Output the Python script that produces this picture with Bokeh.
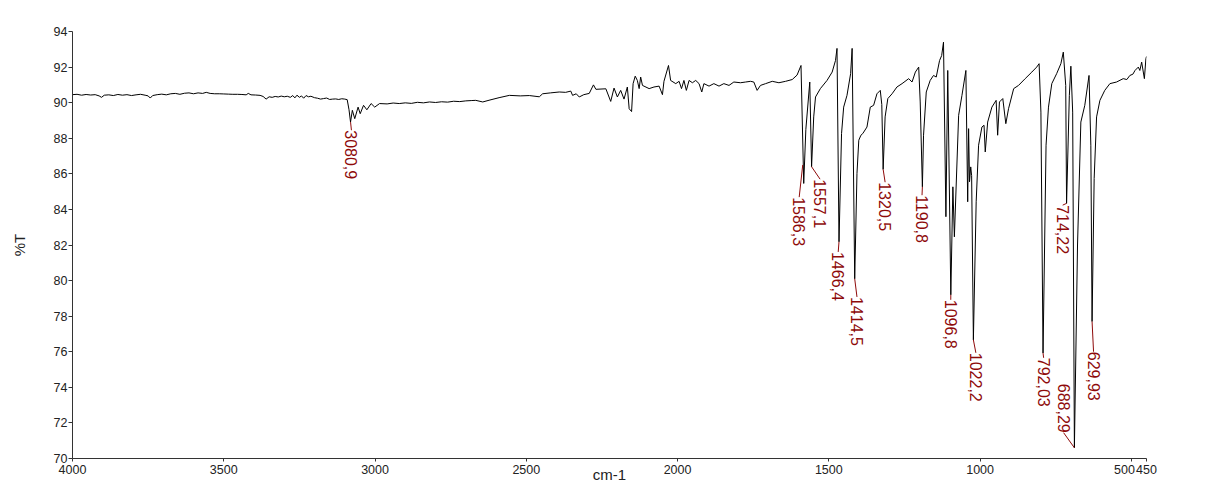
import math
from bokeh.plotting import figure
from bokeh.models import Range1d, FixedTicker, ColumnDataSource, BoxAnnotation
from bokeh.core.properties import value
from bokeh.embed import file_html
from bokeh.resources import INLINE

# ---------------- data ----------------
wavenumber = [
    4000, 3985, 3970, 3955, 3940, 3925, 3912, 3904, 3895, 3880, 3865, 3850, 3835, 3820, 3805,
    3790, 3775, 3760, 3750, 3743, 3735, 3720, 3705, 3690, 3675, 3660, 3645, 3630, 3615, 3600,
    3585, 3570, 3558, 3545, 3530, 3515, 3500, 3485, 3470, 3455, 3440, 3426, 3419, 3410, 3395,
    3380, 3370, 3360, 3350, 3340, 3330, 3320, 3310, 3300, 3290, 3280, 3272, 3265, 3258, 3250,
    3243, 3236, 3228, 3220, 3212, 3200, 3190, 3180, 3170, 3160, 3150, 3140, 3130, 3120, 3110,
    3100, 3092, 3086, 3081, 3075, 3067, 3056, 3049, 3038, 3027, 3013, 3001, 2985, 2960, 2940,
    2920, 2900, 2880, 2860, 2840, 2820, 2800, 2780, 2760, 2740, 2720, 2700, 2680, 2667, 2644,
    2620, 2590, 2556, 2520, 2490, 2457, 2446, 2420, 2391, 2370, 2353, 2347, 2335, 2325, 2310,
    2292, 2278, 2270, 2237, 2221, 2210, 2199, 2188, 2177, 2166, 2160, 2152, 2147, 2140, 2133,
    2127, 2122, 2116, 2094, 2078, 2061, 2050, 2045, 2030, 2023, 2006, 1995, 1987, 1979, 1971,
    1962, 1951, 1940, 1929, 1920, 1913, 1896, 1880, 1863, 1847, 1830, 1814, 1792, 1775, 1759,
    1748, 1737, 1726, 1709, 1687, 1665, 1643, 1621, 1605, 1592, 1583, 1576, 1563, 1557, 1550,
    1544, 1528, 1506, 1489, 1478, 1473, 1466.4, 1458, 1451, 1440, 1428, 1423, 1414.5, 1407, 1401,
    1394, 1388, 1374, 1363, 1352, 1341, 1330, 1325, 1320.5, 1314, 1305, 1291, 1275, 1258, 1236,
    1225, 1214, 1203, 1198, 1190.8, 1187, 1178, 1165, 1154, 1145, 1134, 1127, 1121, 1113, 1107,
    1096.8, 1090, 1085, 1071, 1060, 1047, 1041, 1038, 1035, 1031, 1028, 1022.2, 1013, 1005, 994,
    987, 983, 975, 961, 947, 942, 936, 925, 915, 906, 889, 873, 851, 829, 813,
    805, 799, 792, 782, 774, 763, 747, 733, 725, 717, 714.2, 705, 700, 694, 688.3,
    678, 667, 654, 640, 634, 629.9, 623, 615, 604, 588, 571, 549, 527, 515, 505,
    495, 488, 477, 472, 466, 457, 452, 450,
]
transmittance = [
    90.45, 90.47, 90.42, 90.46, 90.43, 90.45, 90.38, 90.30, 90.42, 90.44, 90.40, 90.46, 90.42, 90.45, 90.40,
    90.44, 90.47, 90.42, 90.38, 90.26, 90.40, 90.45, 90.48, 90.44, 90.50, 90.52, 90.47, 90.53, 90.55, 90.50,
    90.55, 90.52, 90.58, 90.52, 90.50, 90.50, 90.49, 90.48, 90.47, 90.47, 90.46, 90.44, 90.52, 90.44, 90.43,
    90.41, 90.35, 90.20, 90.33, 90.30, 90.35, 90.32, 90.37, 90.33, 90.36, 90.30, 90.40, 90.27, 90.42, 90.30,
    90.38, 90.25, 90.40, 90.33, 90.36, 90.28, 90.25, 90.20, 90.23, 90.26, 90.18, 90.20, 90.21, 90.18, 90.22,
    90.20, 90.17, 89.60, 88.91, 89.57, 89.10, 89.75, 89.38, 89.85, 89.60, 89.95, 89.75, 89.95, 89.93, 89.98,
    89.95, 89.99, 89.96, 90.02, 89.99, 90.04, 90.01, 90.05, 90.03, 90.08, 90.06, 90.10, 90.12, 90.13, 90.04,
    90.15, 90.28, 90.41, 90.38, 90.40, 90.33, 90.50, 90.55, 90.60, 90.58, 90.65, 90.41, 90.50, 90.32, 90.45,
    90.52, 91.00, 90.75, 90.78, 90.07, 90.82, 90.32, 90.69, 90.20, 90.88, 89.66, 89.50, 91.07, 91.49, 91.25,
    90.79, 91.44, 90.97, 90.79, 90.88, 90.93, 90.45, 91.20, 92.09, 91.25, 91.07, 91.20, 90.79, 91.25, 90.69,
    91.25, 91.12, 91.25, 91.07, 90.60, 91.07, 90.93, 91.07, 90.93, 91.07, 90.97, 91.16, 91.12, 91.16, 91.20,
    91.16, 90.69, 90.97, 91.07, 91.20, 91.12, 91.20, 91.30, 91.55, 92.09, 85.46, 88.50, 91.16, 86.40, 89.20,
    90.32, 90.79, 91.25, 91.72, 92.37, 93.05, 82.18, 88.26, 89.75, 90.41, 91.63, 93.05, 80.10, 86.02, 87.89,
    88.17, 88.26, 88.63, 89.75, 89.85, 90.50, 90.69, 89.90, 86.25, 89.20, 90.23, 90.50, 90.88, 91.07, 91.35,
    91.16, 91.72, 92.00, 90.04, 85.27, 88.17, 90.60, 91.25, 91.53, 91.44, 92.37, 92.65, 93.40, 83.59, 91.81,
    79.20, 85.27, 82.46, 89.29, 90.41, 91.81, 84.43, 88.54, 85.55, 86.39, 85.90, 76.67, 84.43, 87.61, 88.63,
    88.73, 87.23, 88.91, 89.75, 90.13, 88.17, 90.04, 90.23, 88.82, 89.66, 90.79, 90.97, 91.35, 91.72, 92.00,
    92.19, 89.47, 75.93, 87.61, 89.75, 91.07, 91.63, 92.19, 92.84, 90.97, 84.34, 90.41, 92.05, 89.47, 70.60,
    82.00, 88.91, 89.85, 91.53, 87.61, 77.70, 85.74, 89.20, 90.13, 90.69, 91.07, 91.16, 91.35, 91.30, 91.53,
    91.60, 91.81, 92.00, 91.81, 92.28, 91.35, 92.47, 92.60,
]

peak_wn = [3080.9, 1586.3, 1557.1, 1466.4, 1414.5, 1320.5, 1190.8, 1096.8, 1022.2, 792.03, 714.22, 688.29, 629.93]
peak_T = [88.91, 86.5, 86.4, 82.18, 80.1, 86.25, 85.27, 79.2, 76.67, 75.93, 84.34, 70.6, 77.7]
peak_text = ["3080,9", "1586,3", "1557,1", "1466,4", "1414,5", "1320,5", "1190,8",
             "1096,8", "1022,2", "792,03", "714,22", "688,29", "629,93"]
# where each rotated label begins (annotation placement)
label_wn = [3078, 1598, 1529, 1469, 1407, 1314, 1192, 1097, 1014, 790, 727, 724, 625]
label_T = [88.45, 84.69, 85.70, 81.61, 79.08, 85.53, 84.80, 78.92, 75.94, 75.66, 84.24, 71.45, 76.0]
label_flip = [False, False, False, False, False, False, False, False, False, False, False, True, False]

x_ticks = [4000, 3500, 3000, 2500, 2000, 1500, 1000, 500, 450]
y_ticks = [70, 72, 74, 76, 78, 80, 82, 84, 86, 88, 90, 92, 94]

# ---------------- figure ----------------
FONT = "Liberation Sans"
RED = "#8e0a0a"
W, H = 1199, 474

p = figure(width=W, height=H, x_range=Range1d(4000, 450), y_range=Range1d(70, 94),
           output_backend="svg", toolbar_location=None,
           min_border_left=62, min_border_right=60, min_border_top=19, min_border_bottom=28)
p.margin = (12, 0, 0, 7)
p.outline_line_color = None
p.xgrid.visible = False
p.ygrid.visible = False
p.background_fill_color = "white"
p.border_fill_color = "white"

# faint frame around the chart area (top and left edges of the canvas)
for l, r, t, b in ((0, W, 0, 2), (0, 2, 0, H)):
    p.add_layout(BoxAnnotation(left=l, right=r, top=t, bottom=b,
                               left_units="canvas", right_units="canvas",
                               top_units="canvas", bottom_units="canvas",
                               fill_color="#e2e2e2", fill_alpha=1.0, line_color=None,
                               level="overlay"))

xa = p.xaxis[0]
xa.ticker = FixedTicker(ticks=x_ticks)
xa.major_label_overrides = {500: "500\u00a0\u00a0\u00a0\u00a0"}
xa.axis_label = "cm-1"
xa.axis_label_text_font = FONT
xa.axis_label_text_font_size = "15px"
xa.axis_label_text_font_style = "normal"
xa.axis_label_text_color = "#222222"
xa.axis_label_standoff = -14
xa.major_label_text_font = FONT
xa.major_label_text_font_size = "12.5px"
xa.major_label_text_color = "#222222"
xa.major_label_standoff = 1
xa.major_tick_out = 3
xa.major_tick_in = 0
xa.minor_tick_out = 0
xa.minor_tick_in = 0
xa.axis_line_color = "#333333"
xa.major_tick_line_color = "#333333"

ya = p.yaxis[0]
ya.ticker = FixedTicker(ticks=y_ticks)
ya.axis_label = "%T"
ya.axis_label_text_font = FONT
ya.axis_label_text_font_size = "15px"
ya.axis_label_text_font_style = "normal"
ya.axis_label_text_color = "#222222"
ya.axis_label_standoff = 23
ya.major_label_text_font = FONT
ya.major_label_text_font_size = "12.5px"
ya.major_label_text_color = "#222222"
ya.major_label_standoff = 1
ya.major_tick_out = 4
ya.major_tick_in = 0
ya.minor_tick_out = 0
ya.minor_tick_in = 0
ya.axis_line_color = "#333333"
ya.major_tick_line_color = "#333333"

# spectrum
p.line(wavenumber, transmittance, line_color="black", line_width=1)

# peak leaders
p.segment(x0=peak_wn, y0=peak_T, x1=label_wn, y1=label_T, line_color=RED, line_width=1)

# peak labels
down = ColumnDataSource(dict(
    x=[w for w, f in zip(label_wn, label_flip) if not f],
    y=[t for t, f in zip(label_T, label_flip) if not f],
    t=[s for s, f in zip(peak_text, label_flip) if not f]))
up = ColumnDataSource(dict(
    x=[w for w, f in zip(label_wn, label_flip) if f],
    y=[t for t, f in zip(label_T, label_flip) if f],
    t=[s for s, f in zip(peak_text, label_flip) if f]))
for src, align in ((down, "left"), (up, "right")):
    p.text(x="x", y="y", text="t", source=src, angle=-math.pi / 2,
           text_align=align, text_baseline="middle",
           text_font=value(FONT), text_font_size="16px", text_color=RED)

open("out.html", "w").write(file_html(p, INLINE))
